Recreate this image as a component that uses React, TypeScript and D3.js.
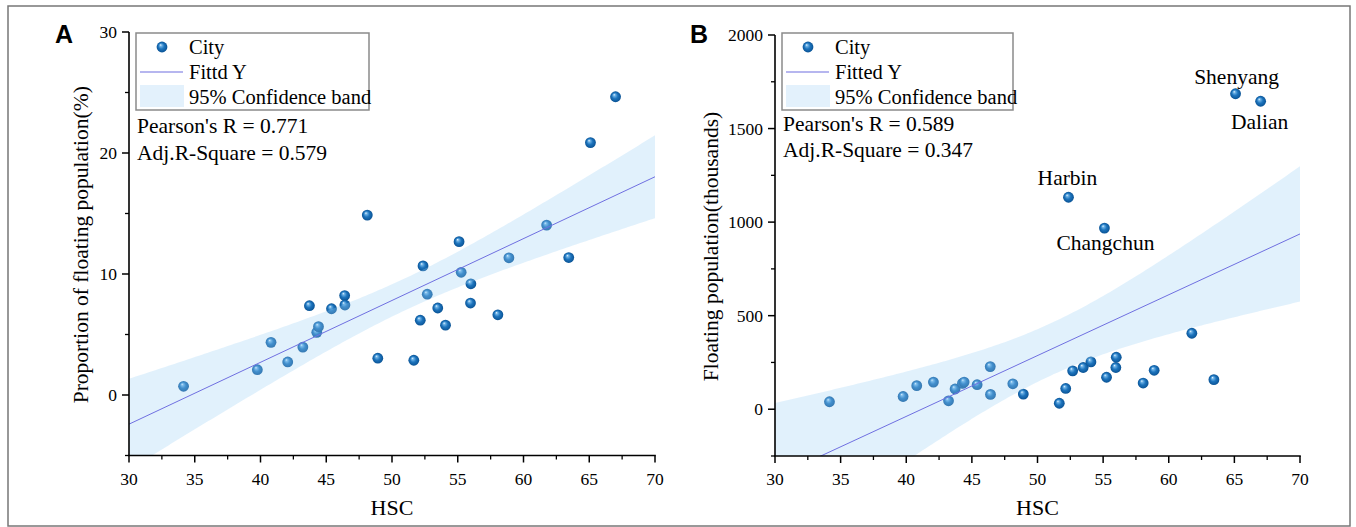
import React from "react";
import * as d3 from "d3";

// ---- data ----
const HSC = [34.15, 39.76, 40.8, 42.07, 43.22, 43.72, 44.28, 44.41, 45.4, 46.4, 46.42, 48.12, 48.92, 51.66, 52.15, 52.36, 52.68, 53.48, 54.07, 55.1, 55.26, 56.0, 55.97, 58.05, 58.89, 61.76, 63.44, 65.09, 67.0];
const PROPORTION = [0.72, 2.09, 4.35, 2.73, 3.96, 7.38, 5.18, 5.65, 7.13, 8.22, 7.44, 14.87, 3.04, 2.87, 6.18, 10.67, 8.33, 7.19, 5.77, 12.67, 10.14, 9.19, 7.6, 6.63, 11.34, 14.04, 11.36, 20.86, 24.65];
const FLOATING = [40, 68, 126, 145, 45, 108, 138, 145, 131, 228, 79, 136, 81, 32, 111, 1133, 205, 223, 253, 968, 171, 278, 223, 140, 208, 406, 158, 1686, 1646];

const X_TICKS = [30, 35, 40, 45, 50, 55, 60, 65, 70];
const X_MINOR = [32.5, 37.5, 42.5, 47.5, 52.5, 57.5, 62.5, 67.5];
const A_Y_TICKS = [0, 10, 20, 30];
const A_Y_MINOR = [-5, 5, 15, 25];
const B_Y_TICKS = [0, 500, 1000, 1500, 2000];
const B_Y_MINOR = [-250, 250, 750, 1250, 1750];

const CITY_NAMES = ["Harbin", "Changchun", "Shenyang", "Dalian"];
const CITY_INDEX = [15, 19, 27, 28];

const A_STATS = ["Pearson's R = 0.771", "Adj.R-Square = 0.579"];
const B_STATS = ["Pearson's R = 0.589", "Adj.R-Square = 0.347"];
const T_CRIT = 2.052; // t(0.975, df=27)

const SERIF = "'Liberation Serif', 'Times New Roman', serif";
const SANS = "'Liberation Sans', Arial, sans-serif";

function regression(xs: number[], ys: number[]) {
  const n = xs.length;
  const mx = d3.mean(xs)!;
  const my = d3.mean(ys)!;
  let sxx = 0, sxy = 0;
  for (let i = 0; i < n; i++) {
    sxx += (xs[i] - mx) ** 2;
    sxy += (xs[i] - mx) * (ys[i] - my);
  }
  const b = sxy / sxx;
  const a = my - b * mx;
  let sse = 0;
  for (let i = 0; i < n; i++) sse += (ys[i] - a - b * xs[i]) ** 2;
  const s = Math.sqrt(sse / (n - 2));
  const half = (x: number) => T_CRIT * s * Math.sqrt(1 / n + (x - mx) ** 2 / sxx);
  return { a, b, half };
}

type PanelProps = {
  id: string;
  letter: string;
  letterX: number;
  x0: number; x1: number; yTop: number; yBot: number;
  yDomain: [number, number];
  yTicks: number[]; yMinor: number[];
  ys: number[];
  yTitle: string; yTitleX: number;
  fitLabel: string;
  stats: string[];
  statsY: number[];
  legendW: number;
  labels?: { name: string; idx: number; dx: number; dy: number }[];
};

function Panel(p: PanelProps) {
  const x = d3.scaleLinear().domain([30, 70]).range([p.x0, p.x1]);
  const y = d3.scaleLinear().domain(p.yDomain).range([p.yBot, p.yTop]);
  const reg = regression(HSC, p.ys);
  const grid = d3.range(30, 70.001, 0.25);
  const area = d3.area<number>()
    .x((d) => x(d))
    .y0((d) => y(reg.a + reg.b * d - reg.half(d)))
    .y1((d) => y(reg.a + reg.b * d + reg.half(d)));
  const line = d3.line<number>().x((d) => x(d)).y((d) => y(reg.a + reg.b * d));
  const lx = p.x0 + 7;
  const ly = 33;
  return (
    <g>
      <defs>
        <clipPath id={`clip-${p.id}`}>
          <rect x={p.x0} y={p.yTop - 10} width={p.x1 - p.x0} height={p.yBot - p.yTop + 10} />
        </clipPath>
      </defs>
      <text x={p.letterX} y={43} fontFamily={SANS} fontWeight="bold" fontSize={25}>{p.letter}</text>
      {/* points */}
      {HSC.map((hx, i) => (
        <circle key={i} cx={x(hx)} cy={y(p.ys[i])} r={5.4} fill="url(#ball)" />
      ))}
      {/* band and fit */}
      <g clipPath={`url(#clip-${p.id})`}>
        <path d={area(grid)!} fill="#9ccff4" fillOpacity={0.3} />
        <path d={line([30, 70])!} stroke="#6f6fe0" strokeWidth={1} fill="none" />
      </g>
      {/* axes */}
      <line x1={p.x0} x2={p.x0} y1={p.yTop} y2={p.yBot} stroke="#000" strokeWidth={1.6} />
      <line x1={p.x0 - 0.8} x2={p.x1 + 0.8} y1={p.yBot} y2={p.yBot} stroke="#000" strokeWidth={1.6} />
      {X_TICKS.map((t) => (
        <g key={t}>
          <line x1={x(t)} x2={x(t)} y1={p.yBot} y2={p.yBot + 7} stroke="#000" strokeWidth={1.5} />
          <text x={x(t)} y={p.yBot + 29} textAnchor="middle" fontFamily={SERIF} fontSize={17.5}>{t}</text>
        </g>
      ))}
      {X_MINOR.map((t) => (
        <line key={t} x1={x(t)} x2={x(t)} y1={p.yBot} y2={p.yBot + 4} stroke="#000" strokeWidth={1.3} />
      ))}
      {p.yTicks.map((t) => (
        <g key={t}>
          <line x1={p.x0 - 7} x2={p.x0} y1={y(t)} y2={y(t)} stroke="#000" strokeWidth={1.5} />
          <text x={p.x0 - 12} y={y(t) + 6} textAnchor="end" fontFamily={SERIF} fontSize={17.5}>{t}</text>
        </g>
      ))}
      {p.yMinor.map((t) => (
        <line key={t} x1={p.x0 - 4} x2={p.x0} y1={y(t)} y2={y(t)} stroke="#000" strokeWidth={1.3} />
      ))}
      <text x={(p.x0 + p.x1) / 2} y={515} textAnchor="middle" fontFamily={SERIF} fontSize={22}>HSC</text>
      <text transform={`translate(${p.yTitleX},${(p.yTop + p.yBot) / 2 + 1}) rotate(-90)`} textAnchor="middle" fontFamily={SERIF} fontSize={21.5}>{p.yTitle}</text>
      {/* legend */}
      <rect x={lx} y={ly} width={p.legendW} height={77} fill="#fff" stroke="#8a8a8a" strokeWidth={1.5} />
      <circle cx={lx + 26} cy={ly + 14} r={5.4} fill="url(#ball)" />
      <text x={lx + 53} y={ly + 21} fontFamily={SERIF} fontSize={20.5}>City</text>
      <line x1={lx + 4} x2={lx + 47} y1={ly + 39} y2={ly + 39} stroke="#6f6fe0" strokeWidth={1.2} />
      <text x={lx + 53} y={ly + 46} fontFamily={SERIF} fontSize={20.5}>{p.fitLabel}</text>
      <rect x={lx + 4} y={ly + 52} width={44} height={22} fill="#e3f1fc" />
      <text x={lx + 53} y={ly + 71} fontFamily={SERIF} fontSize={20.5}>95% Confidence band</text>
      {p.stats.map((s, i) => (
        <text key={s} x={lx + 1} y={p.statsY[i]} fontFamily={SERIF} fontSize={21.5}>{s}</text>
      ))}
      {(p.labels || []).map((l) => (
        <text key={l.name} x={x(HSC[l.idx]) + l.dx} y={y(p.ys[l.idx]) + l.dy} textAnchor="middle" fontFamily={SERIF} fontSize={21.5}>{l.name}</text>
      ))}
    </g>
  );
}

export default function App() {
  const labelOffsets = [
    { dx: -1, dy: -12 },
    { dx: 1, dy: 22 },
    { dx: 1, dy: -10 },
    { dx: -1, dy: 28 },
  ];
  const labels = CITY_NAMES.map((name, i) => ({ name, idx: CITY_INDEX[i], ...labelOffsets[i] }));
  return (
    <div style={{ position: "absolute", left: 0, top: 0 }}>
      <svg width={1356} height={527} style={{ display: "block", background: "#fff" }}>
        <defs>
          <radialGradient id="ball" cx="0.5" cy="0.5" r="0.5" fx="0.36" fy="0.3">
            <stop offset="0" stopColor="#f2f8ff" />
            <stop offset="0.2" stopColor="#6fb3e6" />
            <stop offset="0.55" stopColor="#1d74bd" />
            <stop offset="1" stopColor="#0a5395" />
          </radialGradient>
        </defs>
        <rect x={8} y={6} width={1342} height={520} fill="none" stroke="#777" strokeWidth={1.5} />
        <Panel
          id="a" letter="A" letterX={55}
          x0={129} x1={655} yTop={32} yBot={455.5}
          yDomain={[-5, 30]} yTicks={A_Y_TICKS} yMinor={A_Y_MINOR}
          ys={PROPORTION}
          yTitle="Proportion of floating population(%)" yTitleX={88}
          fitLabel="Fittd Y" stats={A_STATS} statsY={[133, 160]} legendW={233}
        />
        <Panel
          id="b" letter="B" letterX={690}
          x0={775} x1={1300} yTop={35} yBot={456}
          yDomain={[-250, 2000]} yTicks={B_Y_TICKS} yMinor={B_Y_MINOR}
          ys={FLOATING}
          yTitle="Floating population(thousands)" yTitleX={718}
          fitLabel="Fitted Y" stats={B_STATS} statsY={[131, 157]} legendW={231}
          labels={labels}
        />
      </svg>
    </div>
  );
}
